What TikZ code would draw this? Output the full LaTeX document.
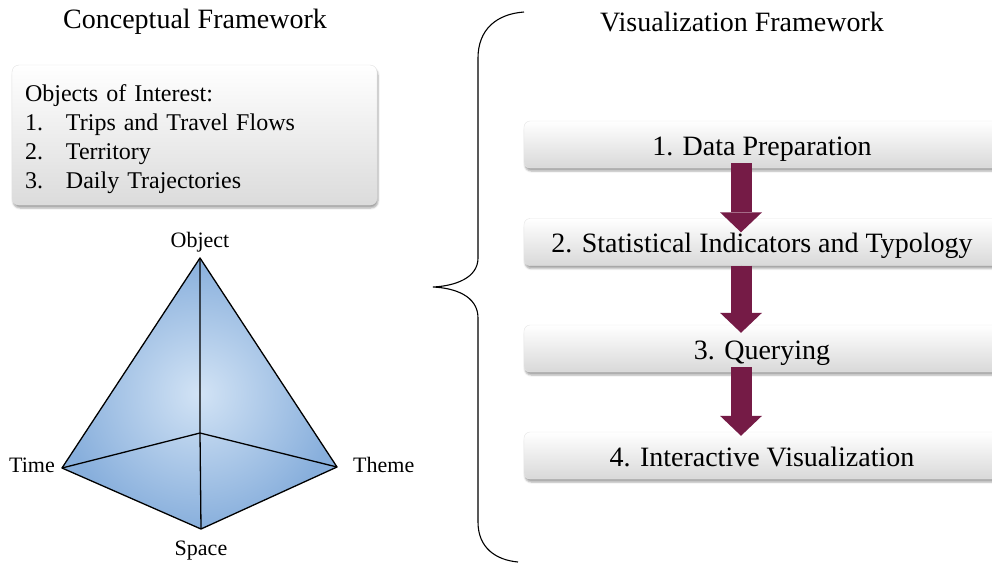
\documentclass[tikz,border=0pt]{standalone}
\usepackage{fontspec}
\setmainfont{Liberation Serif}
\usepackage{xcolor}
\usetikzlibrary{arrows.meta,shadows.blur,positioning}
\definecolor{vfmaroon}{RGB}{117,27,70}
\definecolor{tetralight}{RGB}{210,227,245}
\definecolor{tetradark}{RGB}{136,175,220}
\tikzset{
  fw title/.style={
    font=\fontsize{28}{34}\selectfont,
    inner sep=0pt,
  },
  cf box/.style={
    rectangle,
    rounded corners=7pt,
    minimum width=365pt,
    minimum height=140pt,
    draw=black!12,
    top color=white,
    bottom color=black!14,
    blur shadow={shadow xshift=1pt, shadow yshift=-3pt, shadow opacity=35},
  },
  cf list/.style={
    text width=339pt,
    inner sep=0pt,
    align=left,
    font=\fontsize{24}{29}\selectfont,
  },
  vf step/.style={
    rectangle,
    rounded corners=6pt,
    minimum width=476pt,
    minimum height=47pt,
    text height=21pt,
    text depth=0pt,
    draw=black!10,
    top color=white,
    bottom color=black!15,
    blur shadow={shadow xshift=1pt, shadow yshift=-3pt, shadow opacity=35},
    font=\fontsize{28}{34}\selectfont,
  },
  vf arrow/.style={-{Triangle[width=42pt,length=20pt,line width=0pt]}, line width=21pt, draw=vfmaroon, fill=vfmaroon},
  tetra edge/.style={line width=1.3pt, line join=round},
  tetra label/.style={font=\fontsize{22}{26}\selectfont, inner sep=0pt},
}

\begin{document}
\begin{tikzpicture}[x=1pt, y=-1pt]
  \useasboundingbox (0,0) rectangle (992,562);

  % titles
  \node[fw title] (cftitle) at (195,22) {Conceptual Framework};
  \node[fw title] (vftitle) at (742,22) {Visualization Framework};

  % conceptual side
  \node[cf box] (objects) at (194.5,135) {};
  \node[cf list, yshift=-4pt] (objlist) at (objects) {Objects of Interest:\\
    \makebox[41pt][l]{1.}Trips and Travel Flows\\
    \makebox[41pt][l]{2.}Territory\\
    \makebox[41pt][l]{3.}Daily Trajectories};

  \coordinate (object) at (200,258);
  \coordinate (time) at (62,468);
  \coordinate (theme) at (337,467);
  \coordinate (space) at (201,529);
  \coordinate (back) at (200,433);

  \fill[inner color=tetralight, outer color=tetradark]
    (object) -- (theme) -- (space) -- (time) -- cycle;
  \draw[tetra edge] (object) -- (theme) -- (space) -- (time) -- cycle;
  \draw[tetra edge] (object) -- (back) -- (space);
  \draw[tetra edge] (time) -- (back) -- (theme);

  \node[tetra label, above=6pt of object] (objectlbl) {Object};
  \node[tetra label, left=7pt of time, yshift=3pt] (timelbl) {Time};
  \node[tetra label, right=16pt of theme, yshift=2pt] (themelbl) {Theme};
  \node[tetra label, below=12pt of space] (spacelbl) {Space};

  % brace
  \draw[line width=1.1pt]
    (524,12) .. controls (496,14) and (478,30) .. (478,58) -- (478,258)
    .. controls (478,278) and (455,286) .. (433,287)
    .. controls (455,288) and (478,296) .. (478,318) -- (478,522)
    .. controls (478,548) and (496,560) .. (518,562);

  % visualization steps
  \node[vf step] (prep) at (762,144.5) {1. Data Preparation};
  \node[vf step] (stats) at (762,242) {2. Statistical Indicators and Typology};
  \node[vf step] (query) at (762,348.5) {3. Querying};
  \node[vf step] (interact) at (762,455.5) {4. Interactive Visualization};

  \draw[vf arrow] ([xshift=-21pt,yshift=5pt]prep.south) -- ([xshift=-21pt,yshift=-14pt]stats.north);
  \draw[vf arrow] ([xshift=-21pt]stats.south) -- ([xshift=-21pt,yshift=-8pt]query.north);
  \draw[vf arrow] ([xshift=-21pt,yshift=5pt]query.south) -- ([xshift=-21pt,yshift=-4pt]interact.north);
\end{tikzpicture}
\end{document}
